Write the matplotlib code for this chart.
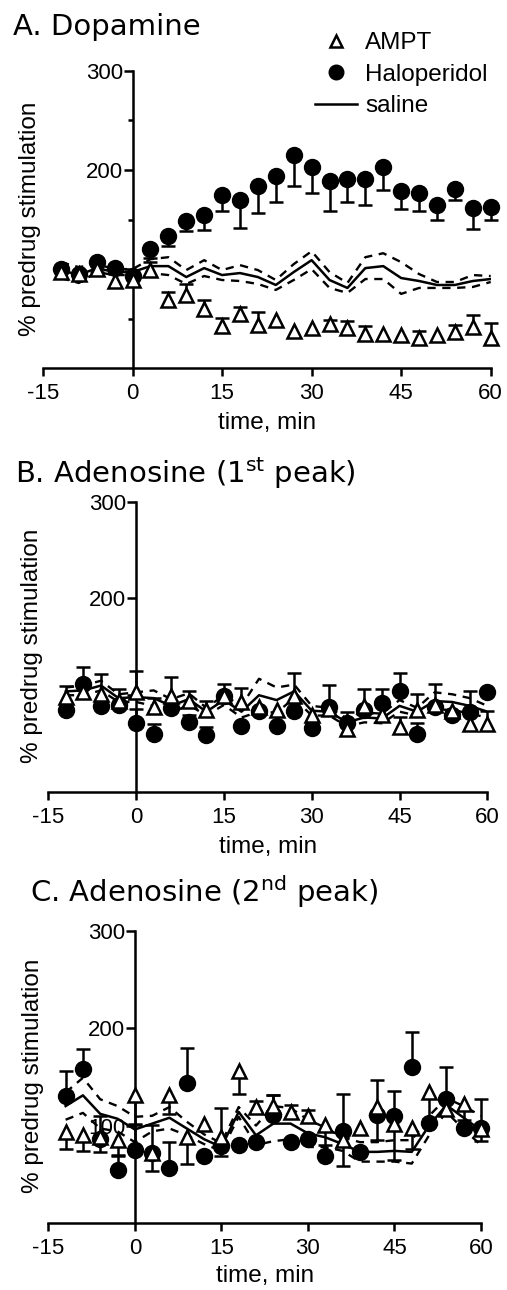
import matplotlib
matplotlib.use("Agg")
import matplotlib.pyplot as plt
from matplotlib.lines import Line2D
import numpy as np

# ---------------- data ----------------
time_min = [-12, -9, -6, -3, 0, 3, 6, 9, 12, 15, 18, 21, 24, 27, 30, 33, 36, 39, 42, 45, 48, 51, 54, 57, 60]

# A. Dopamine
da_ampt = [97, 95, 100, 88, 89, 99, 69, 74, 60, 43, 55, 44, 49, 38, 41, 45, 41, 35, 35, 34, 31, 34, 37, 42, 31]
da_ampt_err = [5, 0, 0, 0, 0, 8, 8, 11, 9, 8, 7, 13, 0, 0, 0, 4, 7, 8, 0, 0, 7, 0, 7, 12, 15]
da_halo = [100, 95, 107, 101, 93, 120, 133, 148, 155, 175, 170, 184, 194, 215, 203, 189, 191, 191, 203, 179, 177, 165, 181, 162, 163]
da_halo_err = [0, 0, -10, -6, 0, -9, -10, -10, -16, -16, -29, -27, -26, -31, -26, -30, -23, -26, -23, -18, -18, -16, -11, -22, -14]
da_saline = [99, 94, 101, 97, 97, 103, 103, 92, 101, 94, 96, 92, 84, 97, 109, 89, 81, 101, 103, 91, 88, 84, 84, 88, 90]
da_saline_sem = [8, 8, 4, 3, 3, 7, 9, 7, 8, 5, 8, 7, 5, 8, 9, 8, 5, 11, 13, 16, 7, 3, 3, 6, 3]

# B. Adenosine (1st peak)
ad1_ampt = [98, 103, 101, 94, 103, 88, 99, 94, 85, 99, 93, 88, 85, 99, 80, 86, 65, 89, 80, 67, 85, 90, 84, 70, 70]
ad1_ampt_err = [12, 0, 21, 12, 22, 9, 20, 10, 9, 0, 14, 0, 0, 24, 0, 0, 6, 17, 0, 11, 16, 0, 0, 0, 14]
ad1_halo = [85, 112, 89, 90, 71, 60, 87, 72, 59, 99, 68, 84, 68, 84, 66, 88, 71, 85, 92, 104, 60, 88, 80, 83, 103]
ad1_halo_err = [0, 17, 0, 0, 15, 10, 0, 8, 8, 13, 0, 0, 0, 0, 0, 23, 12, 0, 14, 19, 11, 24, 0, 21, 0]
ad1_saline = [104, 105, 110, 97, 98, 97, 89, 96, 83, 95, 83, 100, 95, 104, 84, 83, 72, 77, 76, 89, 83, 94, 93, 89, 83]
ad1_saline_sem = [4, 5, 5, 4, 5, 8, 7, 6, 4, 5, 6, 17, 13, 7, 5, 4, 4, 5, 5, 6, 4, 9, 8, 8, 6]

# C. Adenosine (2nd peak)
ad2_ampt = [93, 90, 88, 85, 131, 72, 131, 88, 102, 88, 156, 119, 120, 114, 110, 101, 85, 98, 119, 102, 97, 134, 117, 122, 96]
ad2_ampt_err = [-17, -16, -15, -15, -29, -19, -19, -27, 0, -19, -24, 6, 11, 7, 6, -21, -26, 0, -34, -37, -21, -27, 0, -16, -12]
ad2_halo = [130, 158, 86, 54, 75, 72, 56, 144, 69, 79, 80, 83, 111, 83, 86, 69, 94, 73, 111, 110, 160, 103, 127, 97, 97]
ad2_halo_err = [26, 21, 24, 15, 26, 29, 27, 36, 0, 39, 0, 0, 20, 0, 0, 0, 38, 0, 36, 25, 36, 0, 33, 0, 30]
ad2_saline = [120, 131, 112, 107, 96, 102, 108, 97, 86, 78, 114, 90, 102, 102, 92, 88, 81, 73, 73, 74, 73, 100, 121, 108, 95]
ad2_saline_sem = [14, 18, 15, 13, 13, 8, 11, 7, 5, 4, 5, 10, 18, 16, 14, 10, 7, 10, 10, 11, 12, 10, 7, 12, 15]

x_ticks = [-15, 0, 15, 30, 45, 60]
y_ticks = [100, 200, 300]
titles = ["A. Dopamine", r"B. Adenosine (1$^{\mathrm{st}}$ peak)", r"C. Adenosine (2$^{\mathrm{nd}}$ peak)"]
legend_labels = ["AMPT", "Haloperidol", "saline"]
x_label = "time, min"
y_label = "% predrug stimulation"

# ---------------- style ----------------
TXT = "Liberation Sans"
TITLE_FONT = "DejaVu Sans"
plt.rcParams["mathtext.fontset"] = "dejavusans"
W, H = 507, 1290
LW = 1.8

fig = plt.figure(figsize=(W / 100, H / 100), dpi=100)

rects = [[43, 70.7, 490.7, 368.3], [48.3, 501.7, 487.3, 792.0], [48.3, 930.7, 481.0, 1223.0]]
title_pos = [(12.7, 35), (15, 483), (30, 902)]
ylabel_pos = [(30, 219), (32, 646), (33, 1076)]
xlabel_pos = [(267, 423), (268, 847), (265, 1276)]
show_100 = [False, False, True]


def draw_err(ax, x, y, err):
    x = np.asarray(x, float)
    y = np.asarray(y, float)
    e = np.asarray(err, float)
    m = e != 0
    ax.vlines(x[m], y[m], y[m] + e[m], colors="black", lw=LW, zorder=3, clip_on=False)
    ax.plot(x[m], y[m] + e[m], ls="none", marker="_", ms=10, mew=LW, color="black",
            zorder=3, clip_on=False)


panels = [
    (da_ampt, da_ampt_err, da_halo, da_halo_err, da_saline, da_saline_sem),
    (ad1_ampt, ad1_ampt_err, ad1_halo, ad1_halo_err, ad1_saline, ad1_saline_sem),
    (ad2_ampt, ad2_ampt_err, ad2_halo, ad2_halo_err, ad2_saline, ad2_saline_sem),
]

for i, (ampt, ampt_e, halo, halo_e, sal, sal_sem) in enumerate(panels):
    l, t, r, b = rects[i]
    ax = fig.add_axes([l / W, 1 - b / H, (r - l) / W, (b - t) / H])
    ax.set_xlim(-15, 60)
    ax.set_ylim(0, 300)
    ax.set_axisbelow(True)

    sal = np.asarray(sal, float)
    sem = np.asarray(sal_sem, float)
    ax.plot(time_min, sal, color="black", lw=LW, zorder=2)
    ax.plot(time_min, sal + sem, color="black", lw=1.7, ls=(0, (3.5, 2.8)), zorder=2)
    ax.plot(time_min, sal - sem, color="black", lw=1.7, ls=(0, (3.5, 2.8)), zorder=2)

    draw_err(ax, time_min, halo, halo_e)
    draw_err(ax, time_min, ampt, ampt_e)
    ax.plot(time_min, halo, ls="none", marker="o", ms=11.5, mfc="black", mec="black",
            zorder=4, clip_on=False)
    ax.plot(time_min, ampt, ls="none", marker="^", ms=9.8, mfc="white", mec="black",
            mew=1.8, zorder=5, clip_on=False)

    for s in ["top", "right"]:
        ax.spines[s].set_visible(False)
    ax.spines["left"].set_position(("data", 0))
    ax.spines["left"].set_bounds(0, 300)
    for s in ["left", "bottom"]:
        ax.spines[s].set_linewidth(LW)
        ax.spines[s].set_zorder(2.5)

    ax.set_xticks(x_ticks)
    ax.set_xticklabels([str(v) for v in x_ticks], fontsize=16, family=TXT)
    ax.set_yticks(y_ticks)
    ax.set_yticklabels([("" if (v == 100 and not show_100[i]) else str(v)) for v in y_ticks],
                       fontsize=16, family=TXT)
    ax.tick_params(axis="x", direction="out", length=6, width=LW, pad=4.5)
    ax.tick_params(axis="y", direction="out", length=6.5, width=LW, pad=0.5)
    if i == 0:
        ax.set_yticks([50, 150, 250], minor=True)
        ax.tick_params(axis="y", which="minor", direction="out", length=3.5, width=LW)

    tx, ty = title_pos[i]
    fig.text(tx / W, 1 - ty / H, titles[i], fontsize=21, family=TITLE_FONT, va="baseline", ha="left")
    lx, ly = ylabel_pos[i]
    fig.text(lx / W, 1 - ly / H, y_label, fontsize=17.5, family=TXT, rotation=90,
             ha="center", va="center")
    xx, xy = xlabel_pos[i]
    fig.text(xx / W, 1 - xy / H, x_label, fontsize=17.5, family=TXT, ha="center", va="center")

    if i == 0:
        handles = [
            Line2D([], [], ls="none", marker="^", ms=8.5, mfc="white", mec="black", mew=1.8),
            Line2D([], [], ls="none", marker="o", ms=10.5, mfc="black", mec="black"),
            Line2D([], [], color="black", lw=LW),
        ]
        ax.legend(handles, legend_labels, loc="upper left", bbox_to_anchor=(315 / W, 1 - 32 / H),
                  bbox_transform=fig.transFigure, frameon=False, borderpad=0, borderaxespad=0,
                  handlelength=1.73, handletextpad=0.33, labelspacing=0.4,
                  prop={"family": TXT, "size": 17.5})

fig.savefig("out.png", dpi=100)
